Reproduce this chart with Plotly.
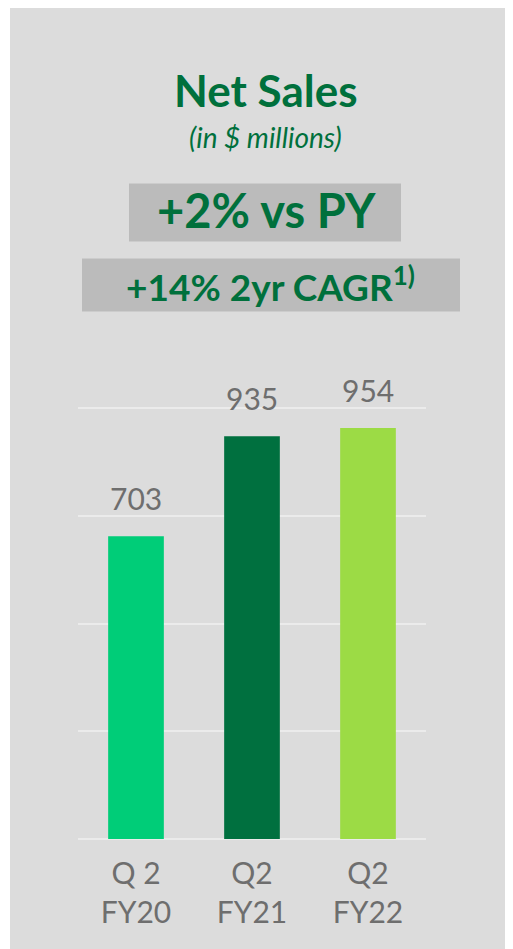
import plotly.graph_objects as go

categories = ["Q 2<br>FY20", "Q2<br>FY21", "Q2<br>FY22"]
values = [703, 935, 954]
bar_colors = ["#00CD78", "#00703F", "#9CDB45"]
tick_vals = [0, 250, 500, 750, 1000]

OFF = 8  # browser body margin
W, H = 513 - OFF, 949 - OFF
Y_MAX = 1010
L, R, B = 78 - OFF, 426 - OFF, 839 - OFF
T = B - 431 * Y_MAX / 1000  # plot top in pixels

def px(x):
    return (x - OFF - L) / (R - L)

def py(y):
    return (B - (y - OFF)) / (B - T)

GREEN = "#00703C"
GRAY_TXT = "#6E6E6E"
FONT = "Lato"

fig = go.Figure()
fig.add_trace(go.Bar(
    x=categories, y=values, marker=dict(color=bar_colors, line=dict(width=0)),
    width=0.48, hoverinfo="skip"))

for c, v in zip(categories, values):
    fig.add_annotation(x=c, y=v, text=str(v), showarrow=False, yanchor="bottom",
                       yshift=18, font=dict(family=FONT, size=30, color=GRAY_TXT))

shapes = [
    dict(type="rect", xref="paper", yref="paper", x0=px(10), x1=px(521), y0=py(957), y1=py(5),
         fillcolor="#DCDCDC", line=dict(width=0), layer="below"),
    dict(type="rect", xref="paper", yref="paper", x0=px(129), x1=px(401), y0=py(241), y1=py(183),
         fillcolor="#BBBBBB", line=dict(width=0), layer="below"),
    dict(type="rect", xref="paper", yref="paper", x0=px(82), x1=px(460), y0=py(311), y1=py(258),
         fillcolor="#BBBBBB", line=dict(width=0), layer="below"),
]

texts = [
    ("<b>Net Sales</b>", 266, 89, 44),
    ("<i>(in $ millions)</i>", 265, 137, 28),
    ("<b>+2% vs PY</b>", 266, 210, 47),
    ("<b>+14% 2yr CAGR<sup>1)</sup></b>", 270, 284, 37),
]
for t, x, y, s in texts:
    fig.add_annotation(xref="paper", yref="paper", x=px(x), y=py(y), text=t, showarrow=False,
                       xanchor="center", yanchor="middle",
                       font=dict(family=FONT, size=s, color=GREEN))

fig.update_layout(
    width=W, height=H,
    margin=dict(l=L, r=W - R, t=T, b=H - B, pad=0),
    paper_bgcolor="white", plot_bgcolor="rgba(0,0,0,0)",
    shapes=shapes, showlegend=False,
    xaxis=dict(range=[-0.5, 2.5], showgrid=False, zeroline=False, showline=False,
               tickfont=dict(family=FONT, size=30, color=GRAY_TXT), ticks="",
               ticklabelstandoff=14),
    yaxis=dict(range=[0, Y_MAX], tickvals=tick_vals, showticklabels=False, showgrid=True,
               gridcolor="#EBEBEB", gridwidth=2, zeroline=True, zerolinecolor="#EBEBEB",
               zerolinewidth=2, showline=False),
)

fig.write_html("out.html")
